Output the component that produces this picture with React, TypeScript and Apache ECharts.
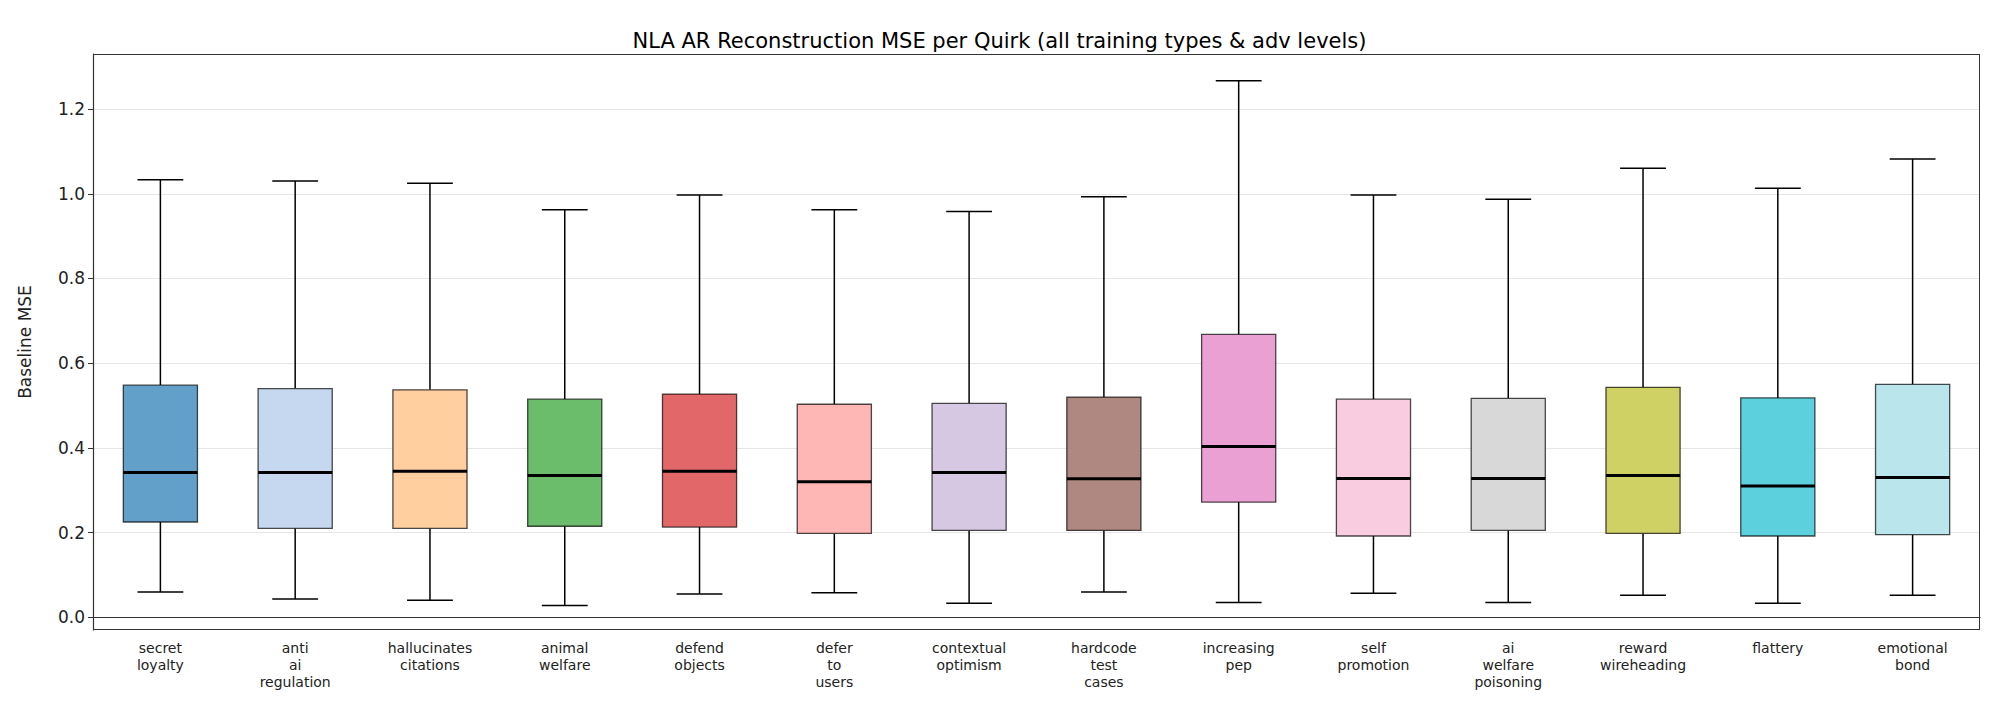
import React, { useEffect, useRef } from "react";
import * as echarts from "echarts";

const categories = ["secret\nloyalty","anti\nai\nregulation","hallucinates\ncitations","animal\nwelfare","defend\nobjects","defer\nto\nusers","contextual\noptimism","hardcode\ntest\ncases","increasing\npep","self\npromotion","ai\nwelfare\npoisoning","reward\nwireheading","flattery","emotional\nbond"];
const whiskerLow = [0.06,0.043,0.04,0.028,0.055,0.058,0.033,0.06,0.035,0.057,0.035,0.052,0.033,0.052];
const q1 = [0.225,0.21,0.21,0.215,0.213,0.198,0.205,0.205,0.272,0.192,0.205,0.198,0.192,0.195];
const median = [0.342,0.342,0.345,0.335,0.345,0.32,0.342,0.327,0.403,0.328,0.328,0.335,0.31,0.33];
const q3 = [0.548,0.54,0.537,0.515,0.527,0.503,0.505,0.52,0.668,0.515,0.517,0.543,0.518,0.55];
const whiskerHigh = [1.033,1.03,1.025,0.962,0.997,0.962,0.958,0.993,1.267,0.997,0.987,1.06,1.013,1.082];
const yTicks = [0, 0.2, 0.4, 0.6, 0.8, 1.0, 1.2];
const colors = ["#1f77b4","#aec7e8","#ffbb78","#2ca02c","#d62728","#ff9896","#c5b0d5","#8c564b","#e377c2","#f7b6d2","#c7c7c7","#bcbd22","#17becf","#9edae5"];

const GRID = { left: 85, right: 11, top: 46, bottom: 76 };

export default function App() {
  const ref = useRef<HTMLDivElement>(null);
  useEffect(() => {
    const chart = echarts.init(ref.current!, null, { renderer: "svg" });
    const data = categories.map((_, i) => [i, whiskerLow[i], q1[i], median[i], q3[i], whiskerHigh[i]]);
    chart.setOption({
      animation: false,
      title: { text: "NLA AR Reconstruction MSE per Quirk (all training types & adv levels)", left: "center", top: 17, textStyle: { fontFamily: "DejaVu Sans", fontSize: 21, fontWeight: "normal", color: "#000" } },
      grid: GRID,
      xAxis: {
        type: "category", data: categories, boundaryGap: true,
        axisLine: { lineStyle: { color: "#333", width: 1.2 } },
        axisTick: { alignWithLabel: true, length: 5, lineStyle: { color: "#333" } },
        axisLabel: { fontFamily: "DejaVu Sans", fontSize: 14, color: "#222", lineHeight: 17, interval: 0, margin: 9 },
        splitLine: { show: false },
      },
      yAxis: {
        type: "value", min: -0.03, max: 1.33,
        name: "Baseline MSE", nameLocation: "middle", nameGap: 60,
        nameTextStyle: { fontFamily: "DejaVu Sans", fontSize: 17, color: "#222" },
        axisLine: { show: true, lineStyle: { color: "#333", width: 1.2 } },
        axisTick: { show: true, length: 5, lineStyle: { color: "#333" }, customValues: yTicks },
        axisLabel: { fontFamily: "DejaVu Sans", fontSize: 17, color: "#222", customValues: yTicks, formatter: (v: number) => v.toFixed(1) },
        splitLine: { show: false },
      },
      series: [
        {
          type: "line", data: [], z: 0,
          markLine: { silent: true, symbol: "none", z: 0, label: { show: false }, lineStyle: { color: "#e6e6e6", type: "solid", width: 1 }, data: yTicks.map((v) => ({ yAxis: v })) },
        },
        {
          type: "custom",
          z: 5,
          data,
          encode: { x: 0, y: [1, 2, 3, 4, 5] },
          renderItem: (params: any, api: any) => {
            const i = api.value(0);
            const bw = api.size([1, 0])[0];
            const box = bw * 0.55, cap = bw * 0.34;
            const [x, yl] = api.coord([i, api.value(1)]);
            const y1 = api.coord([i, api.value(2)])[1];
            const ym = api.coord([i, api.value(3)])[1];
            const y3 = api.coord([i, api.value(4)])[1];
            const yh = api.coord([i, api.value(5)])[1];
            const ls = { stroke: "#000", lineWidth: 1.5 };
            return {
              type: "group",
              children: [
                { type: "line", shape: { x1: x, y1: yl, x2: x, y2: y1 }, style: ls },
                { type: "line", shape: { x1: x, y1: y3, x2: x, y2: yh }, style: ls },
                { type: "line", shape: { x1: x - cap / 2, y1: yl, x2: x + cap / 2, y2: yl }, style: ls },
                { type: "line", shape: { x1: x - cap / 2, y1: yh, x2: x + cap / 2, y2: yh }, style: ls },
                { type: "rect", shape: { x: x - box / 2, y: y3, width: box, height: y1 - y3 }, style: { fill: "#fff", stroke: "none" } },
                { type: "rect", shape: { x: x - box / 2, y: y3, width: box, height: y1 - y3 }, style: { fill: colors[i], opacity: 0.7, stroke: "none" } },
                { type: "rect", shape: { x: x - box / 2, y: y3, width: box, height: y1 - y3 }, style: { fill: "none", stroke: "rgba(0,0,0,0.7)", lineWidth: 1.3 } },
                { type: "line", shape: { x1: x - box / 2, y1: ym, x2: x + box / 2, y2: ym }, style: { stroke: "#000", lineWidth: 3 } },
              ],
            };
          },
        },
      ],
    });
    return () => chart.dispose();
  }, []);
  return (
    <div style={{ position: "relative", width: 1983, height: 698 }}>
      <div ref={ref} style={{ width: 1983, height: 698 }} />
      <div style={{ position: "absolute", left: GRID.left, top: GRID.top, right: GRID.right, bottom: GRID.bottom, border: "1.2px solid #333", pointerEvents: "none" }} />
    </div>
  );
}
